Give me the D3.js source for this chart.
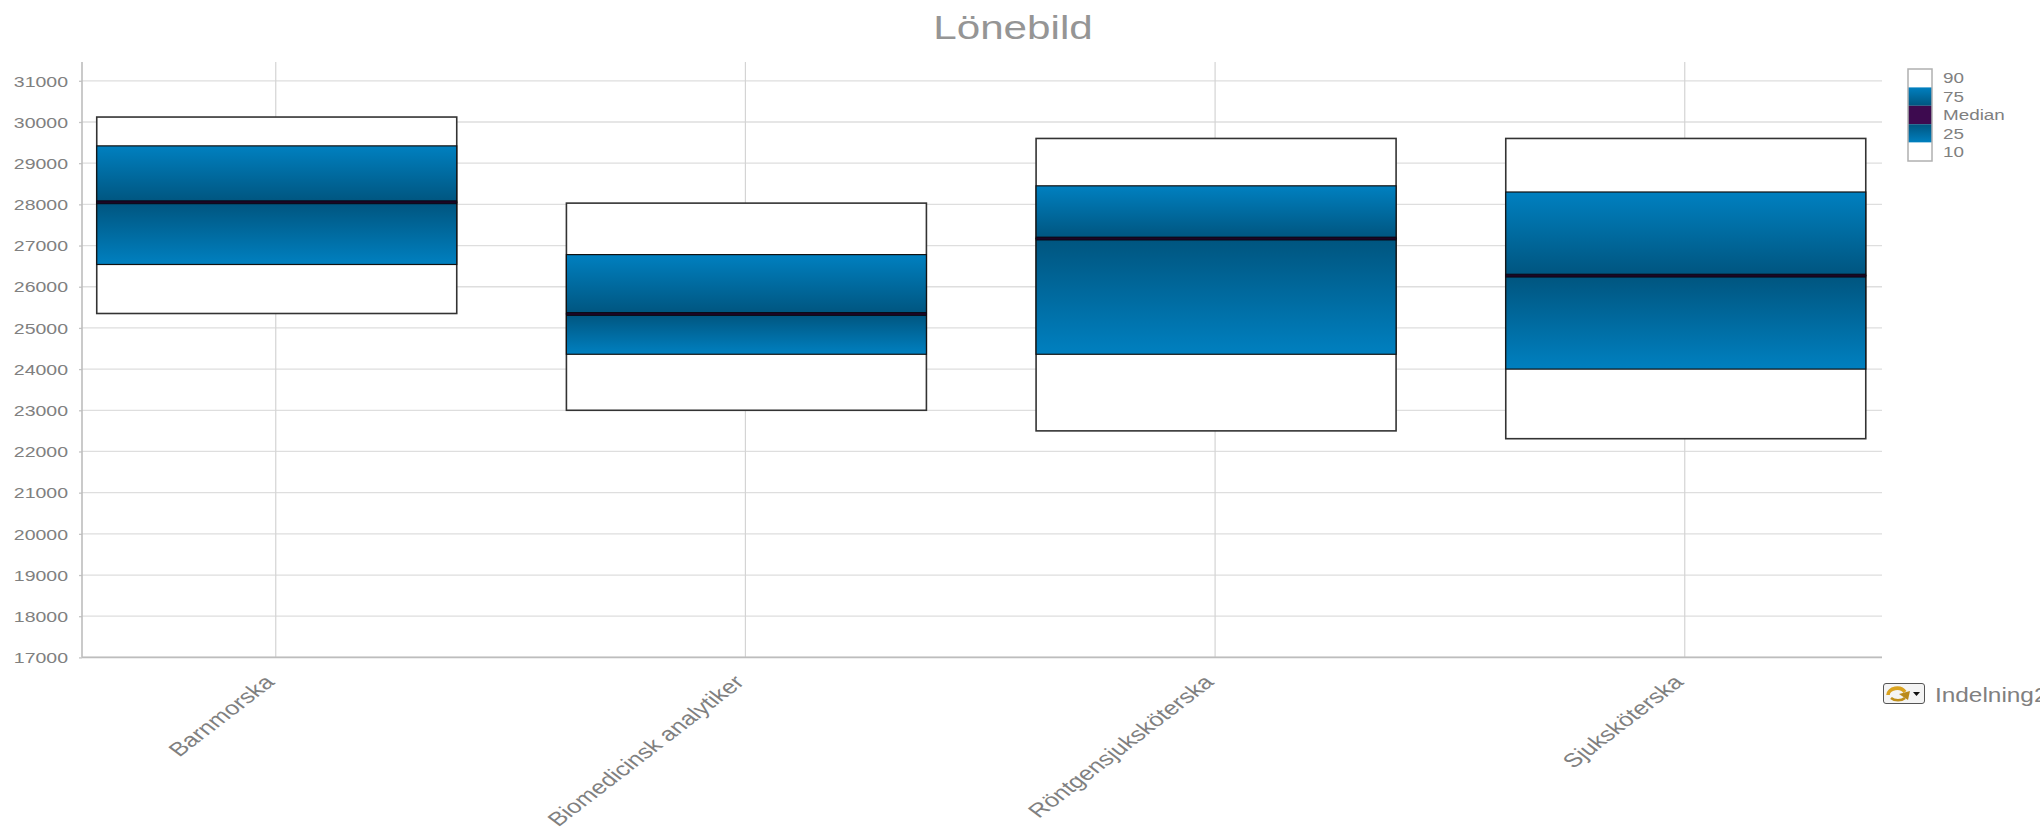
<!DOCTYPE html>
<html><head><meta charset="utf-8">
<script src="https://cdnjs.cloudflare.com/ajax/libs/d3/7.8.5/d3.min.js"></script>
<style>
html,body{margin:0;padding:0;background:#fff;overflow:hidden}
svg{display:block}
text{font-family:"Liberation Sans",Arial,sans-serif;fill:#808080}
</style></head><body>
<script>
const categories = ["Barnmorska","Biomedicinsk analytiker","Röntgensjuksköterska","Sjuksköterska"];
const p10    = [25350,23000,22500,22310];
const p25    = [26540,24360,24360,24000];
const median = [28050,25340,27170,26270];
const p75    = [29420,26780,28450,28300];
const p90    = [30120,28030,29600,29600];
const yTicks = d3.range(17000,31001,1000);
const legendLabels = ["90","75","Median","25","10"];
const titleText = "Lönebild";
const dimensionText = "Indelning2";

const W=2040,H=832, sx=1.3;
const L=82,R=1882,T=62,B=657.4;
const light="#0080c0", dark="#00557f";
const x=d3.scalePoint().domain(categories).range([L,1878.5]).padding(0.4125);
const y=d3.scaleLinear().domain([17000,31000]).range([B,80.8]);
const barW=360;

const svg=d3.select("body").append("svg").attr("width",W).attr("height",H);
const defs=svg.append("defs");
function grad(id,a,b){
  const g=defs.append("linearGradient").attr("id",id).attr("x1",0).attr("x2",0).attr("y1",0).attr("y2",1);
  g.append("stop").attr("offset","0%").attr("stop-color",a);
  g.append("stop").attr("offset","100%").attr("stop-color",b);
}
grad("gUp",light,dark); grad("gDown",dark,light);

svg.append("text").attr("transform",`translate(1013,39) scale(1.28,1)`).attr("text-anchor","middle")
  .attr("font-size",33).style("fill","#959595").text(titleText);

// grid
const grid=svg.append("g");
grid.selectAll("line.h").data(yTicks).join("line").attr("class","h")
  .attr("x1",L).attr("x2",R).attr("y1",d=>y(d)).attr("y2",d=>y(d))
  .attr("stroke","#dedede").attr("stroke-width",1.3);
grid.selectAll("line.v").data(categories).join("line").attr("class","v")
  .attr("x1",d=>x(d)).attr("x2",d=>x(d)).attr("y1",T).attr("y2",B)
  .attr("stroke","#d4d4d4").attr("stroke-width",1.2);

// y axis
const ya=svg.append("g").attr("transform",`translate(${L},0)`)
  .call(d3.axisLeft(y).tickValues(yTicks).tickFormat(d3.format("d")).tickSize(3).tickPadding(0));
ya.select(".domain").remove();
ya.selectAll(".tick line").attr("stroke","#c4c4c4").attr("stroke-width",1.3);
ya.selectAll(".tick text").attr("x",-14/sx).attr("dy","0.35em").attr("transform",`scale(${sx},1)`)
  .attr("font-size",15).attr("font-family",null).style("fill","#808080");
svg.append("line").attr("x1",L).attr("x2",L).attr("y1",T).attr("y2",B).attr("stroke","#bdbdbd").attr("stroke-width",1.6);
svg.append("line").attr("x1",L).attr("x2",R).attr("y1",B).attr("y2",B).attr("stroke","#bdbdbd").attr("stroke-width",1.6);

// x labels
svg.selectAll("text.cat").data(categories).join("text").attr("class","cat")
  .attr("transform",d=>`translate(${x(d)},${B+26}) scale(${sx},1) rotate(-45)`)
  .attr("text-anchor","end").attr("font-size",19.5).text(d=>d);

// boxes
const boxes=svg.selectAll("g.box").data(categories.map((c,i)=>({c,i}))).join("g").attr("class","box")
  .attr("transform",d=>`translate(${x(d.c)-barW/2+1},0)`);
boxes.append("rect").attr("width",barW).attr("y",d=>y(p90[d.i])).attr("height",d=>y(p10[d.i])-y(p90[d.i]))
  .attr("fill","#fff").attr("stroke","#333").attr("stroke-width",1.6);
boxes.append("rect").attr("width",barW).attr("y",d=>y(p75[d.i])).attr("height",d=>y(median[d.i])-y(p75[d.i]))
  .attr("fill","url(#gUp)").attr("stroke","#111").attr("stroke-width",1.2);
boxes.append("rect").attr("width",barW).attr("y",d=>y(median[d.i])).attr("height",d=>y(p25[d.i])-y(median[d.i]))
  .attr("fill","url(#gDown)").attr("stroke","#111").attr("stroke-width",1.2);
boxes.append("rect").attr("width",barW).attr("y",d=>y(median[d.i])-1.5).attr("height",3)
  .attr("fill","#1c0624").attr("stroke","#08080e").attr("stroke-width",0.8);

// legend
const lx=1908,lw=24,ly=69,lh=18.4;
const lf=["#fff","url(#gUp)","#3d0a4f","url(#gDown)","#fff"];
const lg=svg.append("g");
lg.selectAll("rect").data(legendLabels).join("rect")
  .attr("x",lx).attr("width",lw).attr("y",(d,i)=>ly+i*lh).attr("height",lh)
  .attr("fill",(d,i)=>lf[i]);
lg.append("rect").attr("x",lx).attr("y",ly).attr("width",lw).attr("height",lh*5)
  .attr("fill","none").attr("stroke","#b0b0b0").attr("stroke-width",1.5);
lg.selectAll("text").data(legendLabels).join("text")
  .attr("transform",(d,i)=>`translate(1943,${ly+i*lh+9.2}) scale(${sx},1)`)
  .attr("dy","0.36em").attr("font-size",14.5).text(d=>d);

// dimension control
const ic=svg.append("g").attr("transform","translate(1883,683)");
ic.append("rect").attr("x",0.5).attr("y",0.5).attr("width",41).attr("height",20).attr("rx",2.5)
  .attr("fill","#f4f4f4").attr("stroke","#555").attr("stroke-width",1);
ic.append("path").attr("d","M5 12 A9 7 0 0 1 22 9").attr("fill","none").attr("stroke","#d9a21f").attr("stroke-width",3.6);
ic.append("path").attr("d","M8 15 A9 6 0 0 0 22 15").attr("fill","none").attr("stroke","#c08f1a").attr("stroke-width",2.6);
ic.append("path").attr("d","M16 11 L27 8 L25 17 Z").attr("fill","#b98a1c");
ic.append("path").attr("d","M30 9 L37 9 L33.5 13 Z").attr("fill","#111");
svg.append("text").attr("transform",`translate(1935,702) scale(1.25,1)`).attr("font-size",19.5).style("fill","#808080").text(dimensionText);
</script></body></html>
